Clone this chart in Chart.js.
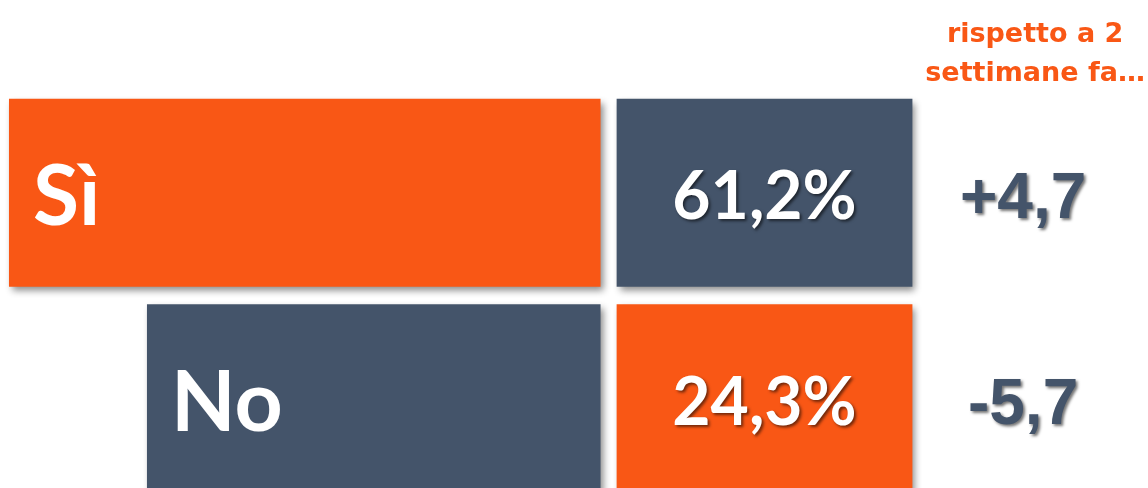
<!DOCTYPE html>
<html>
<head>
<meta charset="utf-8">
<script src="https://cdn.jsdelivr.net/npm/chart.js@4/dist/chart.umd.min.js"></script>
<style>
  html, body { margin: 0; padding: 0; background: #fff; overflow: hidden; }
  #wrap { position: relative; width: 1148px; height: 501px; }
</style>
</head>
<body>
<div id="wrap"><canvas id="chart"></canvas></div>
<script>
// answers, current share (%) and change vs two weeks ago (points)
const answers = ["Sì", "No"];
const shares = [61.2, 24.3];
const changes = [4.7, -5.7];
const headerLines = ["rispetto a 2", "settimane fa…"];

const ORANGE = "#F95715";
const SLATE = "#44546A";

// the answer bars get a fixed lead-in so the label fits, then grow with the share
const LEAD = 97;
const BOX = [4.3, 83.4];      // value box column
const DELTA_X = 113;          // centre of the "change" column

const fmt = (v) => v.toFixed(1).replace(".", ",");

const decor = {
  id: "decor",
  beforeDatasetsDraw(chart) {
    const ctx = chart.ctx;
    ctx.save();
    ctx.shadowColor = "rgba(0,0,0,0.45)";
    ctx.shadowBlur = 7;
    ctx.shadowOffsetX = 3;
    ctx.shadowOffsetY = 4;
  },
  afterDatasetsDraw(chart) {
    const ctx = chart.ctx;
    ctx.restore();
    const x = chart.scales.x;
    const bars = chart.getDatasetMeta(0).data;
    const boxes = chart.getDatasetMeta(1).data;

    ctx.save();
    // answer labels
    ctx.fillStyle = "#fff";
    ctx.font = "bold 84px Lato";
    ctx.textAlign = "left";
    ctx.textBaseline = "alphabetic";
    let asc = ctx.measureText("N").actualBoundingBoxAscent;
    bars.forEach((b, i) => {
      const left = Math.min(b.x, b.base);
      ctx.fillText(answers[i], left + 24, b.y + asc / 2 + 2);
    });

    // value boxes and deltas, with a soft text shadow
    ctx.shadowColor = "rgba(0,0,0,0.55)";
    ctx.shadowBlur = 3;
    ctx.shadowOffsetX = 2;
    ctx.shadowOffsetY = 2;
    ctx.textAlign = "center";
    ctx.font = "bold 66px Lato";
    asc = ctx.measureText("6").actualBoundingBoxAscent;
    boxes.forEach((b, i) => {
      ctx.fillText(fmt(shares[i]) + "%", (b.x + b.base) / 2, b.y + asc / 2 + 2);
    });

    ctx.fillStyle = SLATE;
    ctx.font = "bold 64px 'Liberation Sans'";
    asc = ctx.measureText("4").actualBoundingBoxAscent;
    boxes.forEach((b, i) => {
      const s = (changes[i] > 0 ? "+" : "") + fmt(changes[i]);
      ctx.fillText(s, x.getPixelForValue(DELTA_X), b.y + asc / 2 + 3);
    });
    ctx.restore();

    // header over the change column
    ctx.save();
    ctx.fillStyle = ORANGE;
    ctx.font = "bold 27px 'DejaVu Sans'";
    ctx.textAlign = "center";
    ctx.textBaseline = "alphabetic";
    const hx = x.getPixelForValue(DELTA_X) + 12;
    headerLines.forEach((t, i) => ctx.fillText(t, hx, 42 + i * 39));
    ctx.restore();
  }
};

new Chart(document.getElementById("chart"), {
  type: "bar",
  data: {
    labels: answers,
    datasets: [
      {
        label: "answer",
        data: shares.map((v) => [-(v + LEAD), 0]),
        backgroundColor: [ORANGE, SLATE],
        grouped: false
      },
      {
        label: "value",
        data: shares.map(() => BOX),
        backgroundColor: [SLATE, ORANGE],
        grouped: false
      }
    ]
  },
  options: {
    indexAxis: "y",
    responsive: true,
    maintainAspectRatio: false,
    animation: false,
    barPercentage: 0.915,
    categoryPercentage: 1,
    layout: { padding: { top: 90, left: 0, right: 0, bottom: 0 } },
    scales: {
      x: { type: "linear", min: -160.6, max: 146.4, display: false },
      y: { display: false }
    },
    plugins: {
      legend: { display: false },
      tooltip: { enabled: false }
    }
  },
  plugins: [decor]
});
</script>
</body>
</html>
